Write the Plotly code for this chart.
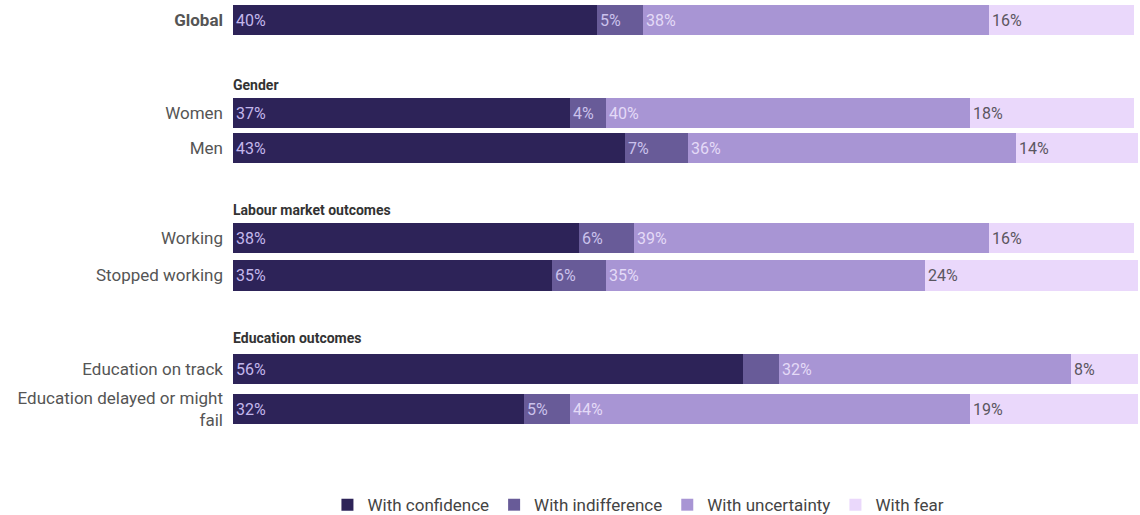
import plotly.graph_objects as go

# Survey groups and their rows
groups = ["", "Gender", "Labour market outcomes", "Education outcomes"]
group_rows = [
    ["Global"],
    ["Women", "Men"],
    ["Working", "Stopped working"],
    ["Education on track", "Education delayed or might<br>fail"],
]

series = ["With confidence", "With indifference", "With uncertainty", "With fear"]
confidence = [40, 37, 43, 38, 35, 56, 32]
indifference = [5, 4, 7, 6, 6, 4, 5]
uncertainty = [38, 40, 36, 39, 35, 32, 44]
fear = [16, 18, 14, 16, 24, 8, 19]
indifference_labels = ["5%", "4%", "7%", "6%", "6%", "", "5%"]

colors = ["#2d2358", "#685b98", "#a895d4", "#ead8fb"]
text_colors = ["#c3b7ec", "#cbc2ec", "#e4daf7", "#5a5660"]

# Vertical spacing per group (in row units): gap to header, header to first row, row pitch
header_gap = [0, 1.86, 1.78, 1.78]
header_to_row = [0, 0.8, 0.8, 0.88]
row_pitch = [1.0, 1.0, 1.06, 1.16]

ypos, header_y, tick_text = [], [], []
cur = 0.0
for gi, (g, rows) in enumerate(zip(groups, group_rows)):
    if gi > 0:
        cur += header_gap[gi]
        header_y.append(cur)
        cur += header_to_row[gi]
    for ri, r in enumerate(rows):
        if ri > 0:
            cur += row_pitch[gi]
        ypos.append(cur)
        tick_text.append(f"<b>{r}</b>" if g == "" else r)

values = [confidence, indifference, uncertainty, fear]
fig = go.Figure()
for i, (name, vals) in enumerate(zip(series, values)):
    labels = indifference_labels if i == 1 else [f"{v}%" for v in vals]
    fig.add_trace(go.Bar(
        y=ypos, x=vals, name=name, orientation="h",
        marker=dict(color=colors[i], line=dict(width=0)),
        width=0.86,
        text=labels, textposition="inside", insidetextanchor="start",
        textfont=dict(color=text_colors[i], size=16, family="Roboto"),
        constraintext="none",
        hoverinfo="skip",
    ))

for g, hy in zip(groups[1:], header_y):
    fig.add_annotation(
        x=0, xref="paper", y=hy, yref="y", text=f"<b>{g}</b>",
        showarrow=False, xanchor="left", yanchor="middle", xshift=-2,
        font=dict(size=14, color="#333333", family="Roboto"),
    )

fig.update_layout(
    width=1140, height=515,
    barmode="stack", bargap=0,
    margin=dict(l=233, r=2, t=0, b=75, autoexpand=False),
    paper_bgcolor="white", plot_bgcolor="white",
    font=dict(family="Roboto", size=17, color="#555555"),
    xaxis=dict(range=[0, 99.4], visible=False, fixedrange=True),
    yaxis=dict(
        range=[12.0, -0.571], tickmode="array", tickvals=ypos, ticktext=tick_text,
        showgrid=False, zeroline=False, showline=False, ticks="",
        ticklabelstandoff=9, tickfont=dict(size=17, color="#555555", family="Roboto"),
    ),
    legend=dict(
        orientation="h", x=0.448, xanchor="center", y=-0.148, yanchor="middle",
        font=dict(size=17, color="#444444", family="Roboto"),
        itemwidth=30, traceorder="normal",
    ),
    showlegend=True,
)

fig.write_html("out.html")
